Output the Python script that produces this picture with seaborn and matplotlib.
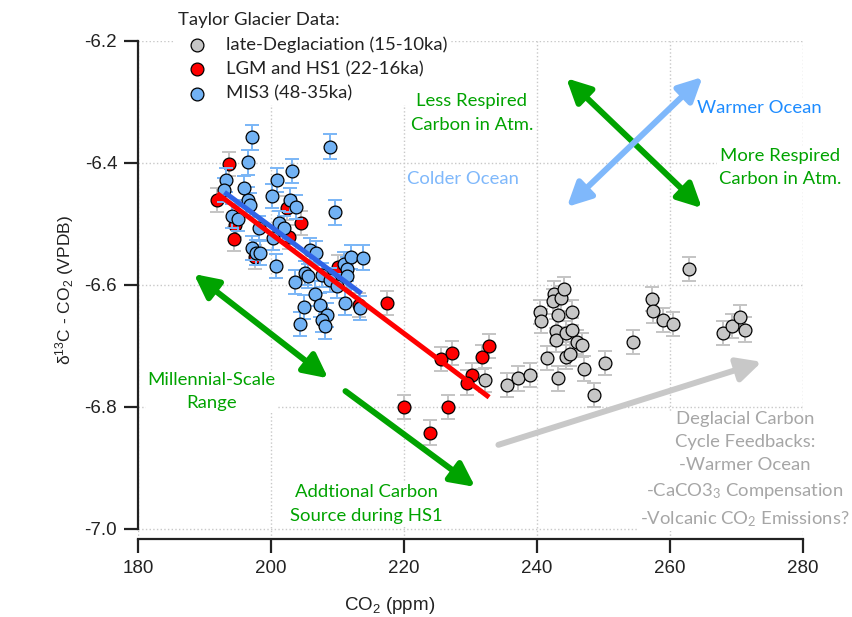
import matplotlib
matplotlib.use("Agg")
import matplotlib.pyplot as plt
import seaborn as sns
import pandas as pd

# late-Deglaciation (15-10ka)
gray_x = [232.2, 235.5, 237.2, 239.0, 240.5, 240.6, 241.5, 242.6, 242.4, 243.6, 244.0, 243.1,
          245.2, 242.9, 242.9, 244.3, 245.2, 246.0, 246.7, 244.4, 244.9, 243.1, 247.1, 248.5,
          250.3, 254.4, 257.3, 257.4, 259.0, 260.5, 262.9, 267.9, 269.3, 270.6, 271.3]
gray_y = [-6.756, -6.764, -6.753, -6.748, -6.644, -6.659, -6.720, -6.614, -6.627, -6.622, -6.607, -6.649,
          -6.645, -6.675, -6.690, -6.679, -6.674, -6.693, -6.698, -6.718, -6.713, -6.753, -6.737, -6.780,
          -6.728, -6.693, -6.623, -6.642, -6.657, -6.664, -6.574, -6.679, -6.667, -6.653, -6.673]

# LGM and HS1 (22-16ka)
red_x = [193.7, 191.9, 194.6, 194.5, 197.6, 202.4, 204.5, 202.7, 210.1, 213.2,
         217.5, 225.6, 227.2, 231.7, 232.8, 230.2, 229.4, 220.0, 226.6, 223.9]
red_y = [-6.402, -6.461, -6.502, -6.525, -6.554, -6.474, -6.498, -6.521, -6.571, -6.633,
         -6.630, -6.721, -6.711, -6.718, -6.700, -6.748, -6.760, -6.800, -6.800, -6.842]

# MIS3 (48-35ka)
blue_x = [197.2, 208.9, 196.6, 193.3, 200.9, 203.2, 193.0, 195.9, 200.1, 196.6, 202.9, 196.8,
          203.8, 194.1, 195.1, 198.2, 201.2, 201.9, 209.6, 197.2, 197.8, 198.3, 200.8, 205.9,
          205.1, 203.6, 206.6, 204.9, 207.4, 211.0, 212.1, 213.8, 211.2, 200.3, 205.6, 208.4,
          207.6, 204.4, 208.1, 211.5, 211.5, 213.4, 207.6, 208.9, 209.9, 206.8]
blue_y = [-6.358, -6.373, -6.399, -6.428, -6.428, -6.413, -6.444, -6.441, -6.454, -6.460, -6.461, -6.469,
          -6.472, -6.487, -6.491, -6.507, -6.499, -6.507, -6.481, -6.539, -6.547, -6.548, -6.569, -6.543,
          -6.580, -6.595, -6.614, -6.636, -6.633, -6.566, -6.554, -6.555, -6.629, -6.523, -6.585, -6.649,
          -6.657, -6.664, -6.668, -6.574, -6.585, -6.638, -6.584, -6.592, -6.602, -6.548]

d13c_err = 0.02

# regression lines
fit_red_x = [191.9, 232.8]
fit_red_y = [-6.450, -6.784]
fit_blue_x = [193.0, 213.6]
fit_blue_y = [-6.448, -6.614]

series = [
    ("late-Deglaciation (15-10ka)", gray_x, gray_y, "#c6c6c6", "#c4c4c4"),
    ("LGM and HS1 (22-16ka)", red_x, red_y, "#ff0000", "#c4c4c4"),
    ("MIS3 (48-35ka)", blue_x, blue_y, "#72b2f4", "#7ab6f6"),
]

sns.set_theme(style="ticks")
plt.rcParams["font.family"] = ["Liberation Sans", "DejaVu Sans"]

GREEN = "#00a300"
LBLUE = "#7fb8fb"
ann_font = ["Lato", "DejaVu Sans"]
FS = 13.3

fig = plt.figure(figsize=(8.53, 6.17), dpi=100)
ax = fig.add_axes([138 / 853, 78 / 617, 665 / 853, 498 / 617])

z = 2
for name, xs, ys, face, ecol in series:
    df = pd.DataFrame({"co2": xs, "d13c": ys})
    ax.errorbar(df["co2"], df["d13c"], yerr=d13c_err, fmt="none", ecolor=ecol,
                elinewidth=1.4, capsize=5, capthick=1.4, zorder=z)
    sns.scatterplot(data=df, x="co2", y="d13c", ax=ax, color=face, s=85,
                    edgecolor="black", linewidth=0.9, label=name, zorder=z + 0.1)
    z += 1

ax.plot(fit_red_x, fit_red_y, color="#ff0000", lw=3.6, solid_capstyle="butt", zorder=6)
ax.plot(fit_blue_x, fit_blue_y, color="#3064e6", lw=3.6, solid_capstyle="butt", zorder=6.1)

ax.set_xlim(180, 280)
ax.set_ylim(-7.0164, -6.2)
ax.set_xticks([180, 200, 220, 240, 260, 280])
ax.set_yticks([-7.0, -6.8, -6.6, -6.4, -6.2])
ax.set_yticklabels(["-7.0", "-6.8", "-6.6", "-6.4", "-6.2"])
ax.grid(True, ls=":", color="#c8c8c8", lw=1)
ax.set_axisbelow(True)
sns.despine(ax=ax)
ax.spines["left"].set_bounds(-7.0, -6.2)
for s in ("left", "bottom"):
    ax.spines[s].set_linewidth(1.6)
    ax.spines[s].set_color("#222222")
ax.tick_params(axis="both", direction="out", length=10, width=1.6, color="#222222",
               labelsize=13.5, pad=5, labelcolor="#222222")

ax.set_xlabel(r"CO$\mathregular{_2}$ (ppm)", fontsize=13.5, color="#222222")
ax.xaxis.set_label_coords((390 - 138) / 665, -0.113)
ax.set_ylabel(r"δ$\mathregular{^{13}}$C - CO$\mathregular{_2}$ (VPDB)", fontsize=12.5,
              labelpad=6, color="#222222")

# arrows
def arrow(start, end, color, style):
    ax.annotate("", xy=end, xytext=start,
                arrowprops=dict(arrowstyle=style, color=color, lw=4.3, shrinkA=0, shrinkB=0,
                                mutation_scale=16), zorder=7, annotation_clip=False)

both = "<|-|>,head_length=0.9,head_width=0.45"
one = "-|>,head_length=0.9,head_width=0.45"
arrow((244.4, -6.261), (264.8, -6.474), GREEN, both)
arrow((244.5, -6.472), (264.9, -6.259), LBLUE, both)
arrow((188.4, -6.582), (208.6, -6.753), GREEN, both)
arrow((211.2, -6.774), (230.7, -6.931), GREEN, one)
arrow((234.2, -6.862), (273.8, -6.726), "#c8c8c8", one)

box = dict(facecolor="white", edgecolor="none", pad=1)
def label(x, y, s, color):
    ax.text(x, y, s, color=color, ha="center", va="center", fontsize=FS, family=ann_font,
            linespacing=1.55, bbox=box, zorder=5, clip_on=False)

label(230.2, -6.318, "Less Respired\nCarbon in Atm.", GREEN)
label(273.5, -6.310, "Warmer Ocean", "#1e8cff")
label(276.5, -6.408, "More Respired\nCarbon in Atm.", GREEN)
label(228.9, -6.426, "Colder Ocean", LBLUE)
label(191.0, -6.775, "Millennial-Scale\nRange", GREEN)
label(214.3, -6.959, "Addtional Carbon\nSource during HS1", GREEN)
label(271.3, -6.903, "Deglacial Carbon\nCycle Feedbacks:\n-Warmer Ocean\n"
      r"-CaCO3$\mathregular{_3}$ Compensation" "\n" r"-Volcanic CO$\mathregular{_2}$ Emissions?",
      "#a6a6a6")

leg = ax.legend(title="Taylor Glacier Data:", loc="upper left",
                bbox_to_anchor=(174 / 853, 1 - 8 / 617), bbox_transform=fig.transFigure,
                frameon=True, facecolor="white", edgecolor="none", framealpha=1,
                prop={"family": ann_font, "size": FS},
                title_fontproperties={"family": ann_font, "size": FS},
                alignment="left", handlelength=2.1, handletextpad=0.5, labelspacing=0.45,
                borderpad=0.2, borderaxespad=0, fancybox=False)
leg.set_zorder(4)
for t in leg.get_texts():
    t.set_color("#222222")
leg.get_title().set_color("#222222")

fig.savefig("out.png", dpi=100)
